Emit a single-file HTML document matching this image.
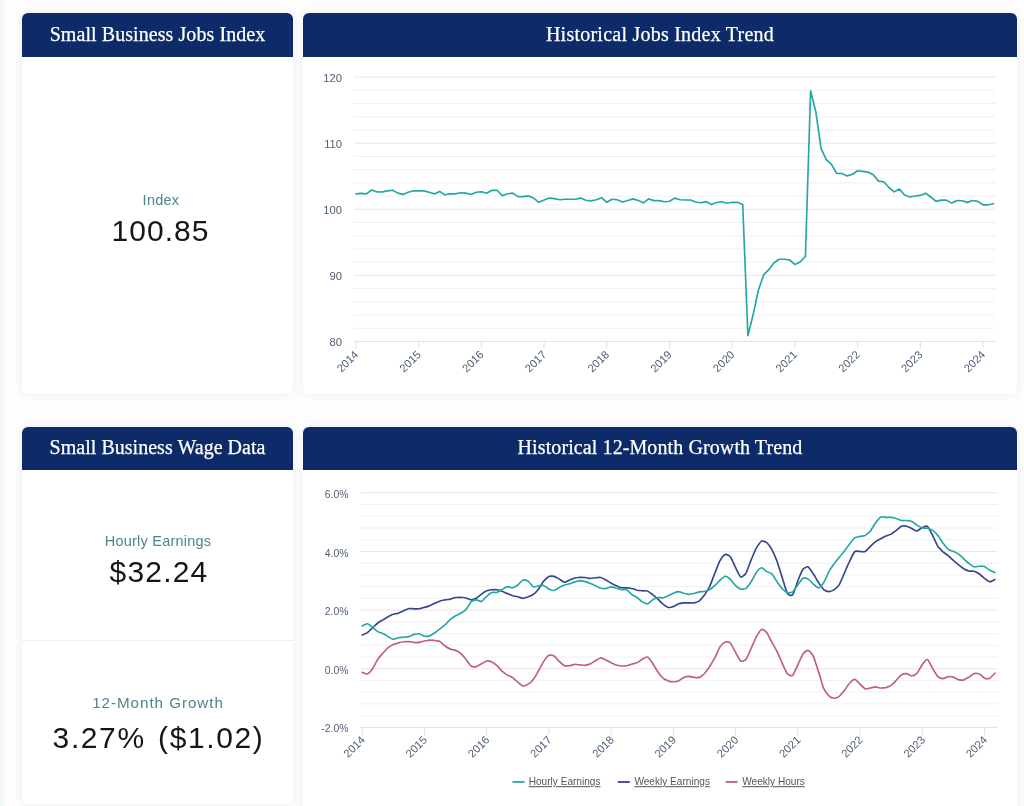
<!DOCTYPE html>
<html lang="en">
<head>
<meta charset="utf-8">
<title>Small Business Jobs Index</title>
<style>
html,body{margin:0;padding:0;}
body{width:1024px;height:806px;overflow:hidden;position:relative;background:#fdfdfd;font-family:"Liberation Sans",sans-serif;}
.strip{position:absolute;left:0;top:0;width:4px;height:806px;background:linear-gradient(90deg,#eef7fb,#f6fbfd);}
.card{position:absolute;background:#fff;border-radius:6px;box-shadow:0 0 8px 1px rgba(0,0,0,0.06);overflow:hidden;}
.hd{position:absolute;left:0;top:0;right:0;background:#0e2b69;color:#fff;font-family:"Liberation Serif",serif;text-align:center;white-space:nowrap;-webkit-text-stroke:0.25px #fff;}
.hd span{display:inline-block;}
.lab{position:absolute;left:0;right:0;text-align:center;color:#4d858a;font-size:14.5px;line-height:1;white-space:nowrap;}
.val{position:absolute;left:0;right:0;text-align:center;color:#161616;font-size:30px;line-height:1;white-space:nowrap;}
.div{position:absolute;left:0;right:0;height:1px;background:#eceff1;}
svg{position:absolute;left:0;top:0;}
.ax{font-family:"Liberation Sans",sans-serif;font-size:11.2px;fill:#4f5e76;}
.axp{font-family:"Liberation Sans",sans-serif;font-size:10.4px;fill:#4f5e76;}
.lg{font-family:"Liberation Sans",sans-serif;font-size:10.1px;fill:#555;text-decoration:underline;}
</style>
</head>
<body>
<div class="strip"></div>

<div class="card" style="left:22px;top:13px;width:271px;height:381px;">
  <div class="hd" style="height:44px;line-height:43px;font-size:20px;letter-spacing:0.07px;"><span id="t1">Small Business Jobs Index</span></div>
  <div class="lab" style="top:180px;padding-left:7px;letter-spacing:0.26px;">Index</div>
  <div class="val" style="top:203px;padding-left:6px;letter-spacing:1px;">100.85</div>
</div>

<div class="card" style="left:303px;top:13px;width:714px;height:381px;">
  <div class="hd" style="height:44px;line-height:43px;font-size:20px;letter-spacing:0.24px;"><span id="t2">Historical Jobs Index Trend</span></div>
</div>

<div class="card" style="left:22px;top:427px;width:271px;height:377px;">
  <div class="hd" style="height:43px;line-height:41px;font-size:20px;letter-spacing:0.03px;"><span id="t3">Small Business Wage Data</span></div>
  <div class="lab" style="top:107px;padding-left:1px;letter-spacing:0.23px;">Hourly Earnings</div>
  <div class="val" style="top:129.7px;padding-left:3px;letter-spacing:1.2px;">$32.24</div>
  <div class="div" style="top:213px;"></div>
  <div class="lab" style="top:268px;padding-left:1px;font-size:15.2px;letter-spacing:0.95px;">12-Month Growth</div>
  <div class="val" style="top:296px;padding-left:2px;letter-spacing:1.6px;word-spacing:2.5px;">3.27% ($1.02)</div>
</div>

<div class="card" style="left:303px;top:427px;width:714px;height:390px;">
  <div class="hd" style="height:43px;line-height:41px;font-size:20px;letter-spacing:0.1px;"><span id="t4">Historical 12-Month Growth Trend</span></div>
</div>

<svg width="1024" height="806" viewBox="0 0 1024 806">
<line x1="354.0" x2="995.5" y1="77.1" y2="77.1" stroke="#f5e1df" stroke-width="1"/>
<line x1="354.0" x2="995.5" y1="90.3" y2="90.3" stroke="#f0f0f2" stroke-width="1"/>
<line x1="354.0" x2="995.5" y1="103.5" y2="103.5" stroke="#f0f0f2" stroke-width="1"/>
<line x1="354.0" x2="995.5" y1="116.7" y2="116.7" stroke="#f0f0f2" stroke-width="1"/>
<line x1="354.0" x2="995.5" y1="130.0" y2="130.0" stroke="#f0f0f2" stroke-width="1"/>
<line x1="354.0" x2="995.5" y1="143.2" y2="143.2" stroke="#f5e1df" stroke-width="1"/>
<line x1="354.0" x2="995.5" y1="156.4" y2="156.4" stroke="#f0f0f2" stroke-width="1"/>
<line x1="354.0" x2="995.5" y1="169.6" y2="169.6" stroke="#f0f0f2" stroke-width="1"/>
<line x1="354.0" x2="995.5" y1="182.8" y2="182.8" stroke="#f0f0f2" stroke-width="1"/>
<line x1="354.0" x2="995.5" y1="196.0" y2="196.0" stroke="#f0f0f2" stroke-width="1"/>
<line x1="354.0" x2="995.5" y1="209.2" y2="209.2" stroke="#f5e1df" stroke-width="1"/>
<line x1="354.0" x2="995.5" y1="222.5" y2="222.5" stroke="#f0f0f2" stroke-width="1"/>
<line x1="354.0" x2="995.5" y1="235.7" y2="235.7" stroke="#f0f0f2" stroke-width="1"/>
<line x1="354.0" x2="995.5" y1="248.9" y2="248.9" stroke="#f0f0f2" stroke-width="1"/>
<line x1="354.0" x2="995.5" y1="262.1" y2="262.1" stroke="#f0f0f2" stroke-width="1"/>
<line x1="354.0" x2="995.5" y1="275.3" y2="275.3" stroke="#f5e1df" stroke-width="1"/>
<line x1="354.0" x2="995.5" y1="288.5" y2="288.5" stroke="#f0f0f2" stroke-width="1"/>
<line x1="354.0" x2="995.5" y1="301.8" y2="301.8" stroke="#f0f0f2" stroke-width="1"/>
<line x1="354.0" x2="995.5" y1="315.0" y2="315.0" stroke="#f0f0f2" stroke-width="1"/>
<line x1="354.0" x2="995.5" y1="328.2" y2="328.2" stroke="#f0f0f2" stroke-width="1"/>
<line x1="354.0" x2="995.5" y1="341.4" y2="341.4" stroke="#dfe1e6" stroke-width="1"/>
<text x="342" y="81.8" text-anchor="end" class="ax">120</text>
<text x="342" y="147.8" text-anchor="end" class="ax">110</text>
<text x="342" y="213.8" text-anchor="end" class="ax">100</text>
<text x="342" y="279.8" text-anchor="end" class="ax">90</text>
<text x="342" y="345.8" text-anchor="end" class="ax">80</text>
<line x1="356.0" x2="356.0" y1="341.5" y2="348.5" stroke="#dfe1e6" stroke-width="1"/>
<text transform="translate(359.0,355.3) rotate(-45)" text-anchor="end" class="ax">2014</text>
<line x1="418.7" x2="418.7" y1="341.5" y2="348.5" stroke="#dfe1e6" stroke-width="1"/>
<text transform="translate(421.7,355.3) rotate(-45)" text-anchor="end" class="ax">2015</text>
<line x1="481.4" x2="481.4" y1="341.5" y2="348.5" stroke="#dfe1e6" stroke-width="1"/>
<text transform="translate(484.4,355.3) rotate(-45)" text-anchor="end" class="ax">2016</text>
<line x1="544.1" x2="544.1" y1="341.5" y2="348.5" stroke="#dfe1e6" stroke-width="1"/>
<text transform="translate(547.1,355.3) rotate(-45)" text-anchor="end" class="ax">2017</text>
<line x1="606.8" x2="606.8" y1="341.5" y2="348.5" stroke="#dfe1e6" stroke-width="1"/>
<text transform="translate(609.8,355.3) rotate(-45)" text-anchor="end" class="ax">2018</text>
<line x1="669.5" x2="669.5" y1="341.5" y2="348.5" stroke="#dfe1e6" stroke-width="1"/>
<text transform="translate(672.5,355.3) rotate(-45)" text-anchor="end" class="ax">2019</text>
<line x1="732.2" x2="732.2" y1="341.5" y2="348.5" stroke="#dfe1e6" stroke-width="1"/>
<text transform="translate(735.2,355.3) rotate(-45)" text-anchor="end" class="ax">2020</text>
<line x1="794.9" x2="794.9" y1="341.5" y2="348.5" stroke="#dfe1e6" stroke-width="1"/>
<text transform="translate(797.9,355.3) rotate(-45)" text-anchor="end" class="ax">2021</text>
<line x1="857.6" x2="857.6" y1="341.5" y2="348.5" stroke="#dfe1e6" stroke-width="1"/>
<text transform="translate(860.6,355.3) rotate(-45)" text-anchor="end" class="ax">2022</text>
<line x1="920.3" x2="920.3" y1="341.5" y2="348.5" stroke="#dfe1e6" stroke-width="1"/>
<text transform="translate(923.3,355.3) rotate(-45)" text-anchor="end" class="ax">2023</text>
<line x1="983.0" x2="983.0" y1="341.5" y2="348.5" stroke="#dfe1e6" stroke-width="1"/>
<text transform="translate(986.0,355.3) rotate(-45)" text-anchor="end" class="ax">2024</text>
<path d="M356.0 193.9 L361.2 193.4 L366.4 193.9 L371.7 190.0 L376.9 191.9 L382.1 192.0 L387.4 190.9 L392.6 190.2 L397.8 193.1 L403.0 194.4 L408.2 192.3 L413.5 190.8 L418.7 190.9 L423.9 190.9 L429.1 192.3 L434.4 193.9 L439.6 191.4 L444.8 194.7 L450.1 193.9 L455.3 193.9 L460.5 192.8 L465.7 193.1 L471.0 194.5 L476.2 192.3 L481.4 191.7 L486.6 193.3 L491.9 190.3 L497.1 190.3 L502.3 195.8 L507.5 193.8 L512.8 193.1 L518.0 196.6 L523.2 196.6 L528.4 195.9 L533.6 198.1 L538.9 202.3 L544.1 200.0 L549.3 198.1 L554.5 198.6 L559.8 199.7 L565.0 199.2 L570.2 199.2 L575.5 199.2 L580.7 198.1 L585.9 200.2 L591.1 200.9 L596.4 199.7 L601.6 197.7 L606.8 202.3 L612.0 199.2 L617.2 199.7 L622.5 202.0 L627.7 200.5 L632.9 198.9 L638.2 200.5 L643.4 202.8 L648.6 198.9 L653.8 200.6 L659.0 200.6 L664.3 201.7 L669.5 201.2 L674.7 198.1 L680.0 199.7 L685.2 200.0 L690.4 200.0 L695.6 202.0 L700.9 202.8 L706.1 201.6 L711.3 204.4 L716.5 202.5 L721.8 201.7 L727.0 203.3 L732.2 202.3 L737.4 202.3 L742.7 204.4 L747.9 335.6 L753.1 314.8 L758.3 290.5 L763.6 274.9 L768.8 269.7 L774.0 262.7 L779.2 259.2 L784.5 259.2 L789.7 260.0 L794.9 264.4 L800.1 262.0 L805.4 256.5 L810.6 90.8 L815.8 111.7 L821.0 148.1 L826.2 159.6 L831.5 164.4 L836.7 173.5 L841.9 173.5 L847.2 175.9 L852.4 174.2 L857.6 170.7 L862.8 171.4 L868.1 172.1 L873.3 174.8 L878.5 181.1 L883.7 181.7 L889.0 187.5 L894.2 191.9 L899.4 189.0 L904.6 195.0 L909.9 197.0 L915.1 196.0 L920.3 195.4 L925.5 193.2 L930.8 197.0 L936.0 201.4 L941.2 200.1 L946.4 200.1 L951.7 203.1 L956.9 200.5 L962.1 200.8 L967.3 202.4 L972.6 200.5 L977.8 201.4 L983.0 204.8 L988.2 204.8 L993.5 203.7" fill="none" stroke="#22a7a3" stroke-width="1.65" stroke-linejoin="round" stroke-linecap="round"/>
<line x1="360.2" x2="997.5" y1="492.8" y2="492.8" stroke="#f5e1df" stroke-width="1"/>
<line x1="360.2" x2="997.5" y1="504.5" y2="504.5" stroke="#f0f0f2" stroke-width="1"/>
<line x1="360.2" x2="997.5" y1="516.3" y2="516.3" stroke="#f0f0f2" stroke-width="1"/>
<line x1="360.2" x2="997.5" y1="528.0" y2="528.0" stroke="#f0f0f2" stroke-width="1"/>
<line x1="360.2" x2="997.5" y1="539.7" y2="539.7" stroke="#f0f0f2" stroke-width="1"/>
<line x1="360.2" x2="997.5" y1="551.5" y2="551.5" stroke="#f5e1df" stroke-width="1"/>
<line x1="360.2" x2="997.5" y1="563.2" y2="563.2" stroke="#f0f0f2" stroke-width="1"/>
<line x1="360.2" x2="997.5" y1="574.9" y2="574.9" stroke="#f0f0f2" stroke-width="1"/>
<line x1="360.2" x2="997.5" y1="586.6" y2="586.6" stroke="#f0f0f2" stroke-width="1"/>
<line x1="360.2" x2="997.5" y1="598.4" y2="598.4" stroke="#f0f0f2" stroke-width="1"/>
<line x1="360.2" x2="997.5" y1="610.1" y2="610.1" stroke="#f5e1df" stroke-width="1"/>
<line x1="360.2" x2="997.5" y1="621.8" y2="621.8" stroke="#f0f0f2" stroke-width="1"/>
<line x1="360.2" x2="997.5" y1="633.6" y2="633.6" stroke="#f0f0f2" stroke-width="1"/>
<line x1="360.2" x2="997.5" y1="645.3" y2="645.3" stroke="#f0f0f2" stroke-width="1"/>
<line x1="360.2" x2="997.5" y1="657.0" y2="657.0" stroke="#f0f0f2" stroke-width="1"/>
<line x1="360.2" x2="997.5" y1="668.8" y2="668.8" stroke="#f5e1df" stroke-width="1"/>
<line x1="360.2" x2="997.5" y1="680.5" y2="680.5" stroke="#f0f0f2" stroke-width="1"/>
<line x1="360.2" x2="997.5" y1="692.2" y2="692.2" stroke="#f0f0f2" stroke-width="1"/>
<line x1="360.2" x2="997.5" y1="703.9" y2="703.9" stroke="#f0f0f2" stroke-width="1"/>
<line x1="360.2" x2="997.5" y1="715.7" y2="715.7" stroke="#f0f0f2" stroke-width="1"/>
<line x1="360.2" x2="997.5" y1="727.4" y2="727.4" stroke="#dfe1e6" stroke-width="1"/>
<text x="348.5" y="497.8" text-anchor="end" class="axp">6.0%</text>
<text x="348.5" y="556.5" text-anchor="end" class="axp">4.0%</text>
<text x="348.5" y="615.1" text-anchor="end" class="axp">2.0%</text>
<text x="348.5" y="673.8" text-anchor="end" class="axp">0.0%</text>
<text x="348.5" y="732.4" text-anchor="end" class="axp">-2.0%</text>
<line x1="362.2" x2="362.2" y1="727.3" y2="735" stroke="#dfe1e6" stroke-width="1"/>
<text transform="translate(365.7,740.6) rotate(-45)" text-anchor="end" class="ax">2014</text>
<line x1="424.4" x2="424.4" y1="727.3" y2="735" stroke="#dfe1e6" stroke-width="1"/>
<text transform="translate(427.9,740.6) rotate(-45)" text-anchor="end" class="ax">2015</text>
<line x1="486.7" x2="486.7" y1="727.3" y2="735" stroke="#dfe1e6" stroke-width="1"/>
<text transform="translate(490.2,740.6) rotate(-45)" text-anchor="end" class="ax">2016</text>
<line x1="548.9" x2="548.9" y1="727.3" y2="735" stroke="#dfe1e6" stroke-width="1"/>
<text transform="translate(552.4,740.6) rotate(-45)" text-anchor="end" class="ax">2017</text>
<line x1="611.1" x2="611.1" y1="727.3" y2="735" stroke="#dfe1e6" stroke-width="1"/>
<text transform="translate(614.6,740.6) rotate(-45)" text-anchor="end" class="ax">2018</text>
<line x1="673.3" x2="673.3" y1="727.3" y2="735" stroke="#dfe1e6" stroke-width="1"/>
<text transform="translate(676.8,740.6) rotate(-45)" text-anchor="end" class="ax">2019</text>
<line x1="735.6" x2="735.6" y1="727.3" y2="735" stroke="#dfe1e6" stroke-width="1"/>
<text transform="translate(739.1,740.6) rotate(-45)" text-anchor="end" class="ax">2020</text>
<line x1="797.8" x2="797.8" y1="727.3" y2="735" stroke="#dfe1e6" stroke-width="1"/>
<text transform="translate(801.3,740.6) rotate(-45)" text-anchor="end" class="ax">2021</text>
<line x1="860.0" x2="860.0" y1="727.3" y2="735" stroke="#dfe1e6" stroke-width="1"/>
<text transform="translate(863.5,740.6) rotate(-45)" text-anchor="end" class="ax">2022</text>
<line x1="922.3" x2="922.3" y1="727.3" y2="735" stroke="#dfe1e6" stroke-width="1"/>
<text transform="translate(925.8,740.6) rotate(-45)" text-anchor="end" class="ax">2023</text>
<line x1="984.5" x2="984.5" y1="727.3" y2="735" stroke="#dfe1e6" stroke-width="1"/>
<text transform="translate(988.0,740.6) rotate(-45)" text-anchor="end" class="ax">2024</text>
<path d="M362.2 672.3 C362.7 672.4 366.3 674.2 367.4 673.9 C368.4 673.5 371.5 670.2 372.6 668.7 C373.6 667.2 376.7 660.9 377.8 659.3 C378.8 657.7 381.9 654.2 382.9 653.1 C384.0 651.9 387.1 648.4 388.1 647.6 C389.2 646.7 392.3 644.9 393.3 644.5 C394.4 644.0 397.5 643.2 398.5 642.9 C399.5 642.6 402.6 641.9 403.7 641.8 C404.7 641.7 407.8 641.6 408.9 641.6 C409.9 641.7 413.0 642.3 414.1 642.4 C415.1 642.5 418.2 642.6 419.2 642.4 C420.3 642.3 423.4 641.2 424.4 641.0 C425.5 640.8 428.6 640.1 429.6 640.1 C430.7 640.0 433.8 640.4 434.8 640.5 C435.8 640.7 439.0 641.1 440.0 641.6 C441.0 642.2 444.1 645.3 445.2 646.0 C446.2 646.8 449.3 648.7 450.4 649.1 C451.4 649.6 454.5 650.0 455.5 650.4 C456.6 650.8 459.7 652.5 460.7 653.4 C461.8 654.3 464.9 658.0 465.9 659.3 C467.0 660.6 470.1 665.3 471.1 666.0 C472.1 666.8 475.3 666.8 476.3 666.6 C477.3 666.4 480.4 664.4 481.5 663.8 C482.5 663.2 485.6 661.2 486.7 661.0 C487.7 660.8 490.8 661.4 491.8 661.9 C492.9 662.4 496.0 664.7 497.0 665.7 C498.1 666.6 501.2 670.4 502.2 671.3 C503.3 672.2 506.4 674.4 507.4 675.1 C508.4 675.7 511.6 676.8 512.6 677.6 C513.6 678.3 516.7 681.4 517.8 682.2 C518.8 683.1 521.9 685.8 523.0 686.0 C524.0 686.2 527.1 684.8 528.1 684.1 C529.2 683.5 532.3 680.8 533.3 679.4 C534.4 678.1 537.5 672.6 538.5 670.8 C539.6 669.0 542.7 663.0 543.7 661.4 C544.7 659.9 547.9 655.7 548.9 655.2 C549.9 654.6 553.0 655.3 554.1 656.0 C555.1 656.6 558.2 660.5 559.3 661.4 C560.3 662.4 563.4 665.2 564.4 665.7 C565.5 666.1 568.6 665.8 569.6 665.7 C570.7 665.5 573.8 664.3 574.8 664.3 C575.9 664.2 579.0 664.8 580.0 664.9 C581.0 665.0 584.2 665.5 585.2 665.4 C586.2 665.2 589.3 664.3 590.4 663.8 C591.4 663.3 594.5 661.3 595.6 660.7 C596.6 660.1 599.7 657.9 600.7 657.8 C601.8 657.8 604.9 659.4 605.9 659.9 C607.0 660.4 610.1 662.2 611.1 662.7 C612.2 663.2 615.3 664.7 616.3 665.0 C617.3 665.4 620.5 665.9 621.5 666.0 C622.5 666.0 625.6 665.9 626.7 665.7 C627.7 665.5 630.8 664.4 631.9 664.1 C632.9 663.8 636.0 663.2 637.0 662.8 C638.1 662.3 641.2 659.9 642.2 659.3 C643.3 658.7 646.4 656.6 647.4 657.0 C648.5 657.4 651.6 661.7 652.6 663.2 C653.6 664.7 656.8 670.3 657.8 671.8 C658.8 673.3 661.9 677.2 663.0 678.1 C664.0 679.0 667.1 680.5 668.2 680.9 C669.2 681.3 672.3 681.7 673.3 681.7 C674.4 681.7 677.5 681.4 678.5 681.0 C679.6 680.6 682.7 677.9 683.7 677.4 C684.8 676.9 687.9 676.3 688.9 676.3 C689.9 676.3 693.1 677.3 694.1 677.4 C695.1 677.5 698.2 677.8 699.3 677.4 C700.3 677.0 703.4 674.6 704.5 673.5 C705.5 672.4 708.6 668.0 709.7 666.5 C710.7 664.9 713.8 659.8 714.8 657.9 C715.9 655.9 719.0 648.5 720.0 646.9 C721.1 645.3 724.2 642.3 725.2 641.9 C726.2 641.5 729.4 642.0 730.4 643.0 C731.4 644.1 734.5 650.6 735.6 652.4 C736.6 654.2 739.7 660.3 740.8 661.0 C741.8 661.7 744.9 660.7 746.0 659.4 C747.0 658.2 750.1 650.8 751.1 648.5 C752.2 646.2 755.3 638.7 756.3 636.8 C757.4 634.8 760.5 629.8 761.5 629.4 C762.5 629.0 765.7 631.2 766.7 632.5 C767.7 633.8 770.8 640.3 771.9 642.2 C772.9 644.1 776.0 649.5 777.1 651.6 C778.1 653.7 781.2 661.1 782.3 663.3 C783.3 665.6 786.4 672.6 787.4 673.8 C788.5 675.0 791.6 676.3 792.6 675.4 C793.7 674.5 796.8 667.0 797.8 664.9 C798.8 662.8 802.0 655.4 803.0 654.0 C804.0 652.5 807.1 650.1 808.2 650.4 C809.2 650.6 812.3 654.1 813.4 656.3 C814.4 658.5 817.5 668.7 818.6 671.9 C819.6 675.1 822.7 686.0 823.7 688.4 C824.8 690.8 827.9 694.9 828.9 695.9 C830.0 696.9 833.1 698.2 834.1 698.2 C835.1 698.3 838.3 697.1 839.3 696.3 C840.3 695.5 843.4 691.7 844.5 690.4 C845.5 689.0 848.6 684.1 849.7 683.0 C850.7 681.9 853.8 679.3 854.9 679.4 C855.9 679.5 859.0 683.2 860.0 684.1 C861.1 685.1 864.2 688.4 865.2 688.8 C866.3 689.2 869.4 688.2 870.4 688.0 C871.4 687.8 874.6 686.9 875.6 686.9 C876.6 686.9 879.7 688.0 880.8 688.0 C881.8 688.1 884.9 687.8 886.0 687.6 C887.0 687.3 890.1 686.1 891.2 685.4 C892.2 684.6 895.3 681.3 896.3 680.2 C897.4 679.1 900.5 675.4 901.5 674.7 C902.6 674.1 905.7 673.5 906.7 673.6 C907.7 673.8 910.9 676.0 911.9 676.0 C912.9 675.9 916.0 674.3 917.1 673.2 C918.1 672.0 921.2 665.9 922.3 664.6 C923.3 663.2 926.4 659.2 927.5 659.6 C928.5 660.0 931.6 666.8 932.6 668.5 C933.7 670.2 936.8 675.6 937.8 676.6 C938.9 677.6 942.0 678.6 943.0 678.6 C944.1 678.6 947.2 676.8 948.2 676.6 C949.2 676.5 952.3 676.8 953.4 677.1 C954.4 677.4 957.5 679.5 958.6 679.7 C959.6 680.0 962.7 680.2 963.8 679.9 C964.8 679.6 967.9 677.7 968.9 677.1 C970.0 676.5 973.1 674.0 974.1 673.6 C975.2 673.3 978.3 673.5 979.3 674.0 C980.4 674.4 983.5 677.8 984.5 678.2 C985.5 678.6 988.6 678.7 989.7 678.2 C990.7 677.7 994.4 673.7 994.9 673.2" fill="none" stroke="#bf5f78" stroke-width="1.65" stroke-linejoin="round" stroke-linecap="round"/>
<path d="M362.2 635.1 C362.7 634.8 366.3 633.5 367.4 632.7 C368.4 632.0 371.5 628.7 372.6 627.7 C373.6 626.8 376.7 623.8 377.8 623.0 C378.8 622.2 381.9 620.5 382.9 619.9 C384.0 619.3 387.1 617.3 388.1 616.8 C389.2 616.2 392.3 614.6 393.3 614.3 C394.4 613.9 397.5 613.5 398.5 613.2 C399.5 612.8 402.6 611.3 403.7 610.8 C404.7 610.4 407.8 608.7 408.9 608.5 C409.9 608.3 413.0 608.8 414.1 608.8 C415.1 608.8 418.2 608.9 419.2 608.8 C420.3 608.7 423.4 607.7 424.4 607.4 C425.5 607.1 428.6 606.1 429.6 605.7 C430.7 605.3 433.8 603.8 434.8 603.3 C435.8 602.9 439.0 601.3 440.0 601.0 C441.0 600.6 444.1 600.1 445.2 599.9 C446.2 599.7 449.3 599.3 450.4 599.1 C451.4 598.9 454.5 597.7 455.5 597.5 C456.6 597.3 459.7 597.2 460.7 597.2 C461.8 597.3 464.9 597.7 465.9 598.0 C467.0 598.3 470.1 599.8 471.1 599.9 C472.1 599.9 475.3 598.9 476.3 598.3 C477.3 597.7 480.4 594.8 481.5 594.1 C482.5 593.3 485.6 591.2 486.7 590.8 C487.7 590.4 490.8 589.8 491.8 589.7 C492.9 589.6 496.0 589.6 497.0 589.7 C498.1 589.9 501.2 590.9 502.2 591.3 C503.3 591.7 506.4 593.2 507.4 593.6 C508.4 594.1 511.6 595.3 512.6 595.7 C513.6 596.0 516.7 596.5 517.8 596.8 C518.8 597.0 521.9 598.3 523.0 598.3 C524.0 598.3 527.1 597.1 528.1 596.8 C529.2 596.4 532.3 595.2 533.3 594.4 C534.4 593.6 537.5 590.3 538.5 588.9 C539.6 587.6 542.7 582.4 543.7 581.1 C544.7 579.9 547.9 576.9 548.9 576.4 C549.9 576.0 553.0 576.2 554.1 576.4 C555.1 576.7 558.2 578.5 559.3 579.1 C560.3 579.7 563.4 582.1 564.4 582.2 C565.5 582.3 568.6 580.4 569.6 580.0 C570.7 579.6 573.8 578.3 574.8 578.0 C575.9 577.7 579.0 577.3 580.0 577.2 C581.0 577.2 584.2 577.4 585.2 577.5 C586.2 577.6 589.3 578.4 590.4 578.5 C591.4 578.5 594.5 577.8 595.6 577.7 C596.6 577.6 599.7 577.3 600.7 577.5 C601.8 577.8 604.9 579.5 605.9 580.0 C607.0 580.6 610.1 582.6 611.1 583.1 C612.2 583.7 615.3 585.4 616.3 585.8 C617.3 586.3 620.5 587.5 621.5 587.7 C622.5 587.9 625.6 587.8 626.7 587.8 C627.7 587.9 630.8 588.2 631.9 588.5 C632.9 588.7 636.0 589.9 637.0 590.2 C638.1 590.4 641.2 590.7 642.2 590.8 C643.3 590.9 646.4 590.6 647.4 591.0 C648.5 591.4 651.6 593.9 652.6 594.7 C653.6 595.5 656.8 598.2 657.8 599.1 C658.8 600.0 661.9 603.3 663.0 604.1 C664.0 604.9 667.1 607.1 668.2 607.4 C669.2 607.6 672.3 607.0 673.3 606.6 C674.4 606.2 677.5 604.0 678.5 603.7 C679.6 603.3 682.7 603.0 683.7 602.9 C684.8 602.8 687.9 602.9 688.9 602.9 C689.9 602.9 693.1 603.1 694.1 602.9 C695.1 602.7 698.2 601.6 699.3 600.9 C700.3 600.1 703.4 596.5 704.5 595.1 C705.5 593.6 708.6 588.7 709.7 586.5 C710.7 584.3 713.8 575.8 714.8 573.2 C715.9 570.6 719.0 562.5 720.0 560.7 C721.1 558.8 724.2 554.8 725.2 554.4 C726.2 554.0 729.4 555.4 730.4 556.8 C731.4 558.1 734.5 565.7 735.6 567.7 C736.6 569.7 739.7 576.5 740.8 577.1 C741.8 577.6 744.9 574.9 746.0 573.2 C747.0 571.5 750.1 562.4 751.1 559.9 C752.2 557.4 755.3 550.0 756.3 548.2 C757.4 546.3 760.5 541.7 761.5 541.1 C762.5 540.6 765.7 541.8 766.7 542.7 C767.7 543.5 770.8 547.8 771.9 549.7 C772.9 551.6 776.0 558.6 777.1 561.4 C778.1 564.3 781.2 574.7 782.3 577.9 C783.3 581.1 786.4 591.8 787.4 593.5 C788.5 595.2 791.6 596.0 792.6 594.8 C793.7 593.5 796.8 583.5 797.8 581.0 C798.8 578.4 802.0 570.7 803.0 569.3 C804.0 567.9 807.1 566.4 808.2 566.9 C809.2 567.4 812.3 572.4 813.4 574.0 C814.4 575.5 817.5 581.0 818.6 582.6 C819.6 584.1 822.7 588.7 823.7 589.6 C824.8 590.5 827.9 591.6 828.9 591.6 C830.0 591.6 833.1 590.3 834.1 589.6 C835.1 588.9 838.3 586.3 839.3 584.6 C840.3 582.9 843.4 575.2 844.5 572.9 C845.5 570.5 848.6 563.3 849.7 561.2 C850.7 559.0 853.8 552.4 854.9 551.5 C855.9 550.5 859.0 551.5 860.0 551.5 C861.1 551.5 864.2 552.0 865.2 551.5 C866.3 550.9 869.4 547.3 870.4 546.3 C871.4 545.3 874.6 542.4 875.6 541.6 C876.6 540.9 879.7 539.3 880.8 538.8 C881.8 538.2 884.9 536.6 886.0 536.1 C887.0 535.7 890.1 534.7 891.2 534.1 C892.2 533.5 895.3 531.1 896.3 530.4 C897.4 529.6 900.5 526.7 901.5 526.3 C902.6 525.9 905.7 526.0 906.7 526.3 C907.7 526.5 910.9 528.2 911.9 528.6 C912.9 529.1 916.0 531.1 917.1 531.0 C918.1 530.9 921.2 528.0 922.3 527.5 C923.3 527.1 926.4 525.5 927.5 526.3 C928.5 527.1 931.6 533.4 932.6 535.4 C933.7 537.4 936.8 544.7 937.8 546.3 C938.9 547.9 942.0 550.8 943.0 551.8 C944.1 552.7 947.2 554.8 948.2 555.7 C949.2 556.5 952.3 559.5 953.4 560.4 C954.4 561.3 957.5 563.9 958.6 564.8 C959.6 565.6 962.7 568.0 963.8 568.7 C964.8 569.3 967.9 570.7 968.9 571.0 C970.0 571.3 973.1 571.0 974.1 571.3 C975.2 571.6 978.3 573.3 979.3 574.0 C980.4 574.7 983.5 577.6 984.5 578.4 C985.5 579.1 988.6 581.7 989.7 581.8 C990.7 581.9 994.4 579.7 994.9 579.5" fill="none" stroke="#33468a" stroke-width="1.65" stroke-linejoin="round" stroke-linecap="round"/>
<path d="M362.2 626.0 C362.7 625.8 366.3 623.7 367.4 623.8 C368.4 623.9 371.5 626.5 372.6 627.3 C373.6 628.0 376.7 631.0 377.8 631.6 C378.8 632.3 381.9 633.0 382.9 633.5 C384.0 634.0 387.1 636.0 388.1 636.6 C389.2 637.2 392.3 639.3 393.3 639.4 C394.4 639.6 397.5 637.9 398.5 637.7 C399.5 637.5 402.6 637.4 403.7 637.3 C404.7 637.2 407.8 636.9 408.9 636.6 C409.9 636.4 413.0 634.7 414.1 634.4 C415.1 634.2 418.2 633.6 419.2 633.8 C420.3 634.0 423.4 636.0 424.4 636.2 C425.5 636.4 428.6 636.2 429.6 635.9 C430.7 635.5 433.8 633.4 434.8 632.7 C435.8 632.0 439.0 629.6 440.0 628.8 C441.0 628.0 444.1 625.5 445.2 624.6 C446.2 623.7 449.3 620.3 450.4 619.4 C451.4 618.6 454.5 616.5 455.5 615.8 C456.6 615.2 459.7 613.8 460.7 613.2 C461.8 612.6 464.9 610.9 465.9 609.7 C467.0 608.6 470.1 602.9 471.1 601.9 C472.1 600.9 475.3 599.9 476.3 599.9 C477.3 599.8 480.4 601.8 481.5 601.4 C482.5 601.1 485.6 597.2 486.7 596.3 C487.7 595.4 490.8 592.9 491.8 592.5 C492.9 592.1 496.0 592.7 497.0 592.4 C498.1 592.1 501.2 590.0 502.2 589.4 C503.3 588.8 506.4 586.7 507.4 586.6 C508.4 586.4 511.6 588.0 512.6 587.8 C513.6 587.7 516.7 585.8 517.8 585.0 C518.8 584.2 521.9 580.4 523.0 580.0 C524.0 579.6 527.1 580.4 528.1 581.1 C529.2 581.8 532.3 586.4 533.3 586.9 C534.4 587.4 537.5 585.9 538.5 585.8 C539.6 585.7 542.7 585.2 543.7 585.5 C544.7 585.8 547.9 588.4 548.9 588.9 C549.9 589.4 553.0 590.7 554.1 590.5 C555.1 590.3 558.2 587.9 559.3 587.4 C560.3 586.8 563.4 585.4 564.4 585.0 C565.5 584.7 568.6 584.1 569.6 583.8 C570.7 583.5 573.8 582.2 574.8 581.9 C575.9 581.6 579.0 580.7 580.0 580.6 C581.0 580.6 584.2 581.3 585.2 581.6 C586.2 581.9 589.3 583.0 590.4 583.5 C591.4 583.9 594.5 585.3 595.6 585.8 C596.6 586.3 599.7 587.9 600.7 588.2 C601.8 588.4 604.9 588.6 605.9 588.5 C607.0 588.3 610.1 586.9 611.1 586.9 C612.2 586.9 615.3 587.9 616.3 588.2 C617.3 588.4 620.5 589.6 621.5 589.7 C622.5 589.9 625.6 589.2 626.7 589.7 C627.7 590.2 630.8 593.9 631.9 594.7 C632.9 595.5 636.0 596.8 637.0 597.5 C638.1 598.3 641.2 601.3 642.2 601.9 C643.3 602.5 646.4 604.0 647.4 603.8 C648.5 603.6 651.6 600.5 652.6 599.9 C653.6 599.3 656.8 597.7 657.8 597.5 C658.8 597.3 661.9 598.0 663.0 597.8 C664.0 597.7 667.1 596.1 668.2 595.7 C669.2 595.2 672.3 593.6 673.3 593.2 C674.4 592.8 677.5 591.6 678.5 591.6 C679.6 591.6 682.7 592.9 683.7 593.2 C684.8 593.5 687.9 594.3 688.9 594.3 C689.9 594.3 693.1 593.7 694.1 593.5 C695.1 593.3 698.2 592.1 699.3 591.9 C700.3 591.7 703.4 591.7 704.5 591.5 C705.5 591.2 708.6 590.2 709.7 589.6 C710.7 589.0 713.8 586.6 714.8 585.7 C715.9 584.7 719.0 581.2 720.0 580.2 C721.1 579.3 724.2 576.4 725.2 576.3 C726.2 576.2 729.4 578.5 730.4 579.4 C731.4 580.4 734.5 584.7 735.6 585.7 C736.6 586.7 739.7 588.9 740.8 589.1 C741.8 589.4 744.9 589.1 746.0 588.3 C747.0 587.6 750.1 583.4 751.1 581.8 C752.2 580.2 755.3 573.8 756.3 572.4 C757.4 571.0 760.5 567.8 761.5 567.7 C762.5 567.6 765.7 571.0 766.7 571.6 C767.7 572.2 770.8 572.9 771.9 574.0 C772.9 575.0 776.0 580.3 777.1 581.8 C778.1 583.3 781.2 587.7 782.3 588.8 C783.3 589.9 786.4 592.4 787.4 592.7 C788.5 593.0 791.6 592.7 792.6 591.9 C793.7 591.2 796.8 586.3 797.8 584.9 C798.8 583.5 802.0 578.8 803.0 578.2 C804.0 577.6 807.1 578.5 808.2 579.1 C809.2 579.7 812.3 583.2 813.4 584.1 C814.4 585.0 817.5 588.2 818.6 588.0 C819.6 587.9 822.7 584.2 823.7 582.6 C824.8 580.9 827.9 573.5 828.9 571.6 C830.0 569.7 833.1 565.2 834.1 563.8 C835.1 562.4 838.3 558.5 839.3 557.3 C840.3 556.0 843.4 552.3 844.5 551.0 C845.5 549.7 848.6 545.3 849.7 544.0 C850.7 542.6 853.8 538.5 854.9 537.7 C855.9 537.0 859.0 536.7 860.0 536.4 C861.1 536.2 864.2 535.9 865.2 535.4 C866.3 534.8 869.4 532.2 870.4 531.0 C871.4 529.7 874.6 524.3 875.6 522.8 C876.6 521.4 879.7 517.4 880.8 516.9 C881.8 516.4 884.9 517.3 886.0 517.4 C887.0 517.4 890.1 517.3 891.2 517.4 C892.2 517.5 895.3 518.2 896.3 518.5 C897.4 518.8 900.5 520.3 901.5 520.5 C902.6 520.7 905.7 520.4 906.7 520.5 C907.7 520.6 910.9 521.1 911.9 521.6 C912.9 522.1 916.0 524.5 917.1 525.2 C918.1 525.8 921.2 527.7 922.3 528.0 C923.3 528.3 926.4 528.1 927.5 528.3 C928.5 528.6 931.6 529.6 932.6 530.4 C933.7 531.1 936.8 534.1 937.8 535.4 C938.9 536.6 942.0 541.8 943.0 543.2 C944.1 544.6 947.2 548.6 948.2 549.4 C949.2 550.2 952.3 550.8 953.4 551.3 C954.4 551.8 957.5 553.4 958.6 554.1 C959.6 554.9 962.7 557.9 963.8 558.8 C964.8 559.8 967.9 562.7 968.9 563.5 C970.0 564.3 973.1 566.7 974.1 566.9 C975.2 567.2 978.3 566.2 979.3 566.2 C980.4 566.1 983.5 566.2 984.5 566.6 C985.5 567.0 988.6 569.6 989.7 570.2 C990.7 570.8 994.4 572.3 994.9 572.6" fill="none" stroke="#22a7a3" stroke-width="1.65" stroke-linejoin="round" stroke-linecap="round"/>
<line x1="512.5" x2="524.5" y1="782" y2="782" stroke="#22a7a3" stroke-width="1.8"/>
<text x="528.7" y="785.2" class="lg">Hourly Earnings</text>
<line x1="617.8" x2="629.8" y1="782" y2="782" stroke="#33468a" stroke-width="1.8"/>
<text x="634.4" y="785.2" class="lg">Weekly Earnings</text>
<line x1="725.6" x2="737.6" y1="782" y2="782" stroke="#bf5f78" stroke-width="1.8"/>
<text x="742.2" y="785.2" class="lg">Weekly Hours</text>
</svg>
</body>
</html>
